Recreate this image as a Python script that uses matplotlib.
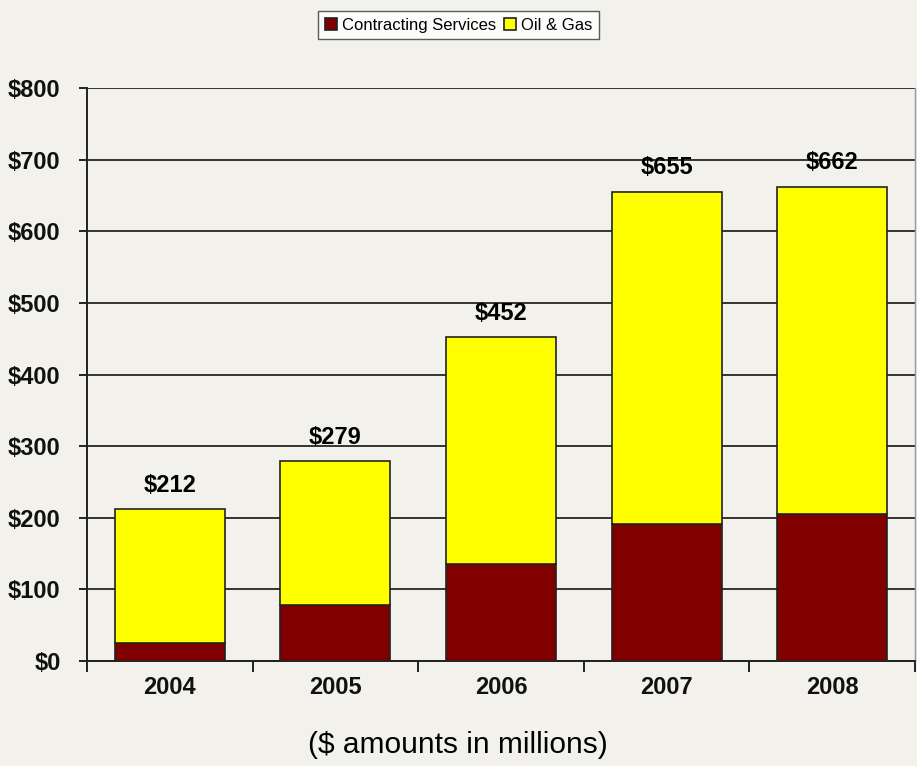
import numpy as np
import matplotlib
matplotlib.use("Agg")
import matplotlib.pyplot as plt
from matplotlib.ticker import FixedLocator

# Revenue by segment ($ millions)
years = ["2004", "2005", "2006", "2007", "2008"]
contracting = [25, 78, 135, 191, 205]
totals = [212, 279, 452, 655, 662]
oil_gas = [t - c for t, c in zip(totals, contracting)]

bg = "#f2f1ec"
font = "Liberation Sans"

fig = plt.figure(figsize=(9.17, 7.66), dpi=100, facecolor=bg)
ax = fig.add_axes([0.0949, 0.137, 0.9029, 0.748], facecolor=bg)

x = np.arange(len(years))
w = 0.665
ax.bar(x, contracting, w, color="#800000", edgecolor="#222222", linewidth=1.2,
       label="Contracting Services", zorder=3)
ax.bar(x, oil_gas, w, bottom=contracting, color="#ffff00", edgecolor="#222222",
       linewidth=1.2, label="Oil & Gas", zorder=3)

# totals above each stack
for xi, t in zip(x, totals):
    ax.annotate("$%d" % t, (xi, t), xytext=(0, 9), textcoords="offset points",
                ha="center", va="bottom", fontsize=17, fontweight="bold",
                family=font)

ax.set_xlim(-0.5, 4.5)
ax.set_ylim(0, 800)
ax.set_yticks(range(0, 801, 100))
ax.set_yticklabels(["$%d" % v for v in range(0, 801, 100)], family=font,
                   fontsize=17, fontweight="bold", color="#111111")
ax.yaxis.grid(True, color="#333333", linewidth=1.4, zorder=0)

ax.set_xticks(x)
ax.set_xticklabels(years, family=font, fontsize=17, fontweight="bold",
                   color="#111111")
ax.xaxis.set_minor_locator(FixedLocator(np.arange(-0.5, 5, 1.0)))
ax.tick_params(axis="x", which="major", length=0, pad=11)
ax.tick_params(axis="x", which="minor", length=8, width=1.4, color="#222222",
               direction="out")
ax.tick_params(axis="y", length=6, width=1.4, color="#222222", pad=13)

for side in ["left", "bottom"]:
    ax.spines[side].set_color("#222222")
    ax.spines[side].set_linewidth(1.4)
ax.spines["top"].set_visible(False)
ax.spines["right"].set_color("#999999")
ax.spines["right"].set_linewidth(1.0)

# caption centred on the whole figure rather than the axes
ax.set_xlabel("($ amounts in millions)", fontsize=21.5, family=font)
ax.xaxis.set_label_coords(0.448, -0.147)
ax.xaxis.label.set_va("center")

leg = fig.legend(loc="upper center", bbox_to_anchor=(0.5, 0.99), ncol=2,
                 frameon=True, fancybox=False, edgecolor="#333333",
                 facecolor="white", prop={"family": font, "size": 12},
                 handlelength=0.7, handleheight=0.7, handletextpad=0.3,
                 columnspacing=0.5, borderpad=0.4, borderaxespad=0.2)
leg.get_frame().set_linewidth(1.0)

fig.savefig("out.png", dpi=100, facecolor=bg)
